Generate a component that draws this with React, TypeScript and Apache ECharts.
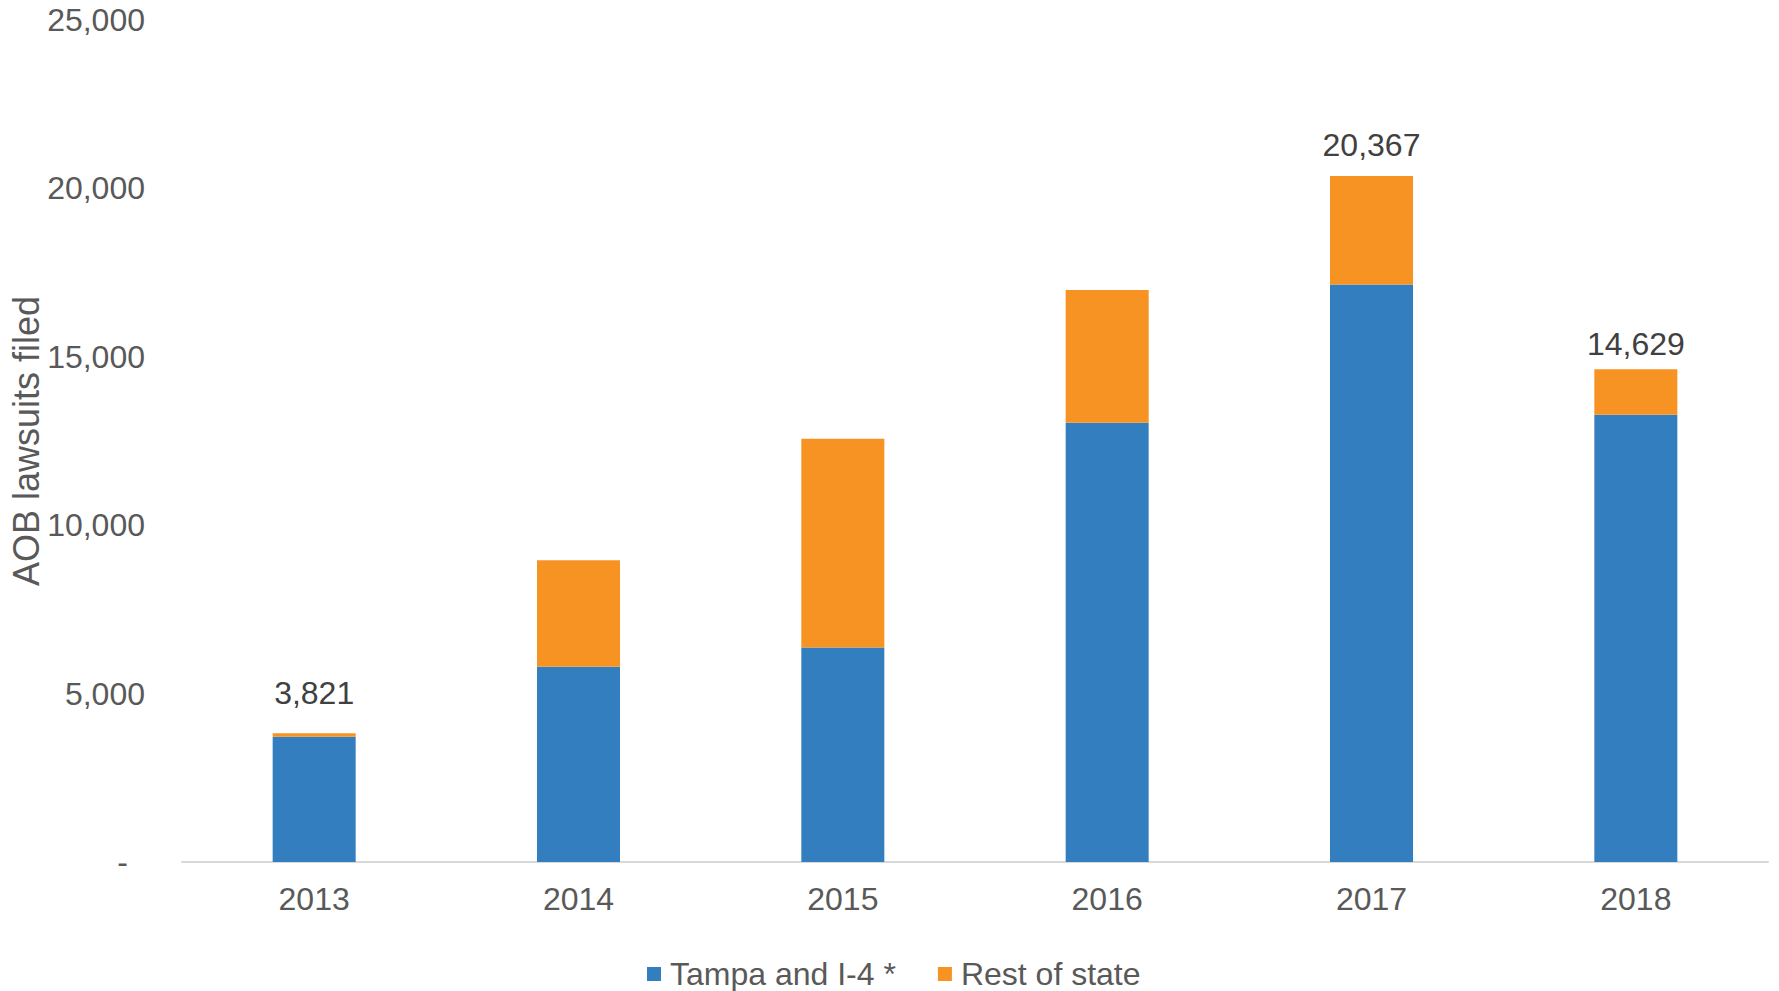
import React, { useEffect, useRef } from "react";
import * as echarts from "echarts";

const years = ["2013", "2014", "2015", "2016", "2017", "2018"];
const tampa = [3720, 5795, 6368, 13039, 17150, 13280];
const restOfState = [101, 3167, 6199, 3942, 3217, 1349];
const totalLabelIdx = [0, 4, 5];
const labelDistance = [24, 0, 0, 0, 15, 9];
const yTicks = [0, 5000, 10000, 15000, 20000, 25000];

const FONT = "'Liberation Sans', Arial, sans-serif";
const FS = 32;

export default function App() {
  const ref = useRef<HTMLDivElement>(null);
  useEffect(() => {
    if (!ref.current) return;
    const chart = echarts.init(ref.current, undefined, { renderer: "svg" });
    const fmt = (v: number) => v.toLocaleString("en-US");
    chart.setOption({
      animation: false,
      textStyle: { fontFamily: FONT },
      grid: { left: 182, right: 11, top: 20, bottom: 129, containLabel: false, outerBoundsMode: "none" },
      legend: {
        top: 952,
        left: 642,
        icon: "rect",
        itemWidth: 14,
        itemHeight: 14,
        itemGap: 42,
        textStyle: { fontSize: FS, lineHeight: 34, color: "#595959", fontFamily: FONT, padding: [0, 0, 0, 4] },
        data: ["Tampa and I-4 *", "Rest of state"],
      },
      xAxis: {
        type: "category",
        data: years,
        axisLine: { lineStyle: { color: "#D9D9D9", width: 2 } },
        axisTick: { show: false },
        axisLabel: { fontSize: FS, color: "#595959", margin: 21, fontFamily: FONT },
      },
      yAxis: {
        type: "value",
        min: yTicks[0],
        max: yTicks[yTicks.length - 1],
        interval: yTicks[1] - yTicks[0],
        name: "AOB lawsuits filed",
        nameLocation: "middle",
        nameGap: 138,
        nameMoveOverlap: false,
        nameTextStyle: { fontSize: 36, color: "#595959", fontFamily: FONT },
        axisLine: { show: false },
        axisTick: { show: false },
        splitLine: { show: false },
        axisLabel: {
          fontSize: FS,
          color: "#595959",
          margin: 37,
          fontFamily: FONT,
          formatter: (v: number) => (v === 0 ? "{z|-}" : fmt(v)),
          rich: { z: { fontSize: FS, color: "#595959", padding: [0, 17, 0, 0], fontFamily: FONT } },
        },
      },
      series: [
        {
          name: "Tampa and I-4 *",
          type: "bar",
          stack: "total",
          barWidth: 83,
          itemStyle: { color: "#337EBE" },
          data: tampa,
        },
        {
          name: "Rest of state",
          type: "bar",
          stack: "total",
          barWidth: 83,
          itemStyle: { color: "#F69323" },
          data: restOfState.map((v, i) => ({
            value: v,
            label: {
              show: totalLabelIdx.includes(i),
              position: "top",
              distance: labelDistance[i],
              formatter: () => fmt(tampa[i] + restOfState[i]),
              fontSize: FS,
              lineHeight: 32,
              color: "#404040",
              fontFamily: FONT,
            },
          })),
        },
      ],
    });
    return () => chart.dispose();
  }, []);
  return (
    <div
      ref={ref}
      style={{ position: "fixed", left: 0, top: 0, width: 1779, height: 991, background: "#fff" }}
    />
  );
}
